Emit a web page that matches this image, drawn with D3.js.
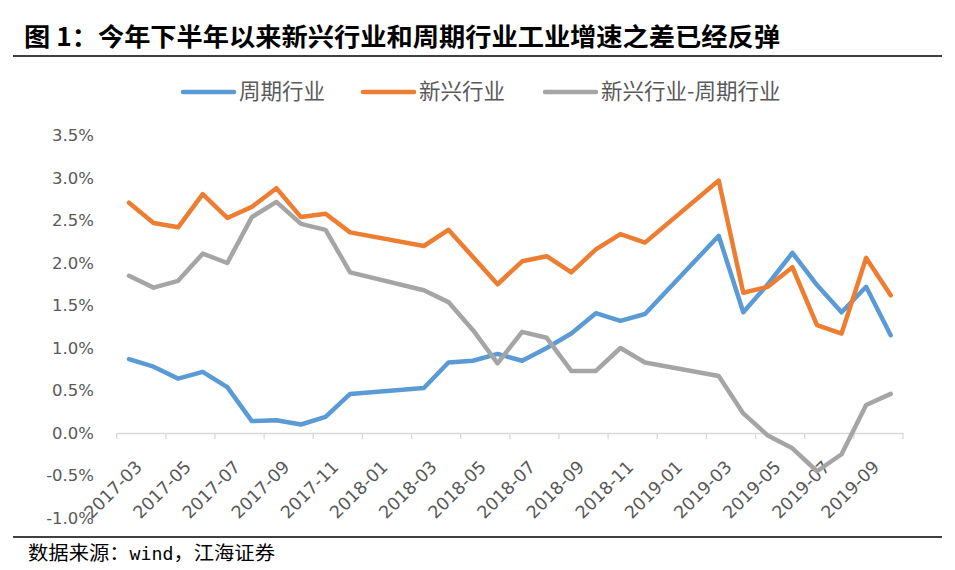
<!DOCTYPE html>
<html><head><meta charset="utf-8">
<script src="https://cdn.jsdelivr.net/npm/d3@7/dist/d3.min.js"></script>
<style>
body{margin:0;background:#fff;}
svg{display:block;font-family:"Noto Sans CJK SC","Noto Sans",sans-serif;}
</style></head>
<body><svg id="c" width="955" height="570"></svg>
<script>
const categories = ["2017-03","2017-04","2017-05","2017-06","2017-07","2017-08","2017-09","2017-10","2017-11","2017-12",
"2018-01","2018-02","2018-03","2018-04","2018-05","2018-06","2018-07","2018-08","2018-09","2018-10","2018-11","2018-12",
"2019-01","2019-02","2019-03","2019-04","2019-05","2019-06","2019-07","2019-08","2019-09","2019-10"];
const cyclical = [0.87,0.78,0.64,0.72,0.54,0.14,0.15,0.10,0.19,0.46,
null,null,0.53,0.83,0.85,0.93,0.85,1.00,1.17,1.41,1.32,1.40,
null,null,2.32,1.42,1.75,2.12,1.74,1.42,1.72,1.15];
const emerging = [2.71,2.47,2.42,2.81,2.53,2.66,2.88,2.54,2.58,2.36,
null,null,2.20,2.39,2.07,1.75,2.02,2.08,1.89,2.16,2.34,2.24,
null,null,2.97,1.65,1.72,1.95,1.27,1.17,2.06,1.62];
const spread = [1.85,1.71,1.79,2.11,2.00,2.54,2.72,2.46,2.39,1.89,
null,null,1.68,1.54,1.21,0.82,1.19,1.12,0.73,0.73,1.00,0.83,
null,null,0.67,0.23,-0.03,-0.18,-0.45,-0.25,0.33,0.46];
const yTicks = [-1.0,-0.5,0,0.5,1.0,1.5,2.0,2.5,3.0,3.5];
const seriesNames = ["周期行业","新兴行业","新兴行业-周期行业"];
const colors = ["#5B9BD5","#ED7D31","#A5A5A5"];
const titleText = "图 1：今年下半年以来新兴行业和周期行业工业增速之差已经反弹";
const sourceParts = ["数据来源：","wind","，江海证券"];

const svg = d3.select("#c");
const x = d3.scaleBand().domain(categories).range([116.7, 903]);
const y = d3.scaleLinear().domain([-1, 3.5]).range([518, 135.5]);

// title
svg.append("text").attr("x",24).attr("y",46).attr("font-size",25).attr("font-weight","bold").attr("fill","#000")
  .attr("textLength",756).attr("lengthAdjust","spacingAndGlyphs").text(titleText);
svg.append("line").attr("x1",13).attr("x2",942).attr("y1",56).attr("y2",56).attr("stroke","#000").attr("stroke-width",1.3);
svg.append("line").attr("x1",13).attr("x2",942).attr("y1",537).attr("y2",537).attr("stroke","#000").attr("stroke-width",1.3);
const src = svg.append("text").attr("x",28).attr("y",560).attr("font-size",19).attr("fill","#000")
  .attr("textLength",247).attr("lengthAdjust","spacingAndGlyphs");
src.append("tspan").text(sourceParts[0]);
src.append("tspan").attr("font-family","'DejaVu Sans Mono','Liberation Mono',monospace").attr("font-size",17).text(sourceParts[1]);
src.append("tspan").text(sourceParts[2]);

// y axis labels
const yAxis = d3.axisLeft(y).tickValues(yTicks).tickSize(0).tickPadding(0).tickFormat(d => d.toFixed(1)+"%");
const yg = svg.append("g").attr("transform","translate(94,0)").call(yAxis);
yg.select(".domain").remove();
yg.selectAll("text").attr("font-size",16.5).attr("fill","#595959").attr("font-family","'DejaVu Sans',sans-serif");

// x axis at 0
const xAxis = d3.axisBottom(x).tickSize(0).tickFormat((d,i)=> i%2===0 ? d : "");
const xg = svg.append("g").attr("transform",`translate(0,${y(0)})`).call(xAxis);
xg.select(".domain").attr("stroke","#d9d9d9").attr("stroke-width",1.3);
xg.selectAll("text").attr("font-size",17.5).attr("fill","#595959")
  .attr("font-family","'DejaVu Sans',sans-serif")
  .attr("text-anchor","end").attr("dy",0)
  .attr("transform","translate(12,33) rotate(-45)");
// tick marks every 2 categories at band edges
const tickEdges = categories.filter((d,i)=>i%2===0).map(d=>x(d)).concat([x.range()[1]]);
svg.append("g").selectAll("line").data(tickEdges).join("line")
  .attr("x1",d=>d).attr("x2",d=>d).attr("y1",y(0)).attr("y2",y(0)+6)
  .attr("stroke","#d9d9d9").attr("stroke-width",1.3);

// lines
const allSeries = [cyclical, emerging, spread];
const line = d3.line().x(d=>x(d.c)+x.bandwidth()/2).y(d=>y(d.v)).curve(d3.curveLinear);
allSeries.forEach((s,k)=>{
  const pts = categories.map((c,i)=>({c, v:s[i]})).filter(d=>d.v!==null);
  svg.append("path").datum(pts).attr("d",line).attr("fill","none")
    .attr("stroke",colors[k]).attr("stroke-width",4.5).attr("stroke-linejoin","round").attr("stroke-linecap","round");
});

// legend
const legX = [183, 363, 545];
seriesNames.forEach((n,k)=>{
  svg.append("line").attr("x1",legX[k]).attr("x2",legX[k]+51).attr("y1",92).attr("y2",92)
    .attr("stroke",colors[k]).attr("stroke-width",4.5).attr("stroke-linecap","round");
  svg.append("text").attr("x",legX[k]+56).attr("y",99).attr("font-size",21.5).attr("fill","#595959").text(n);
});
</script></body></html>
